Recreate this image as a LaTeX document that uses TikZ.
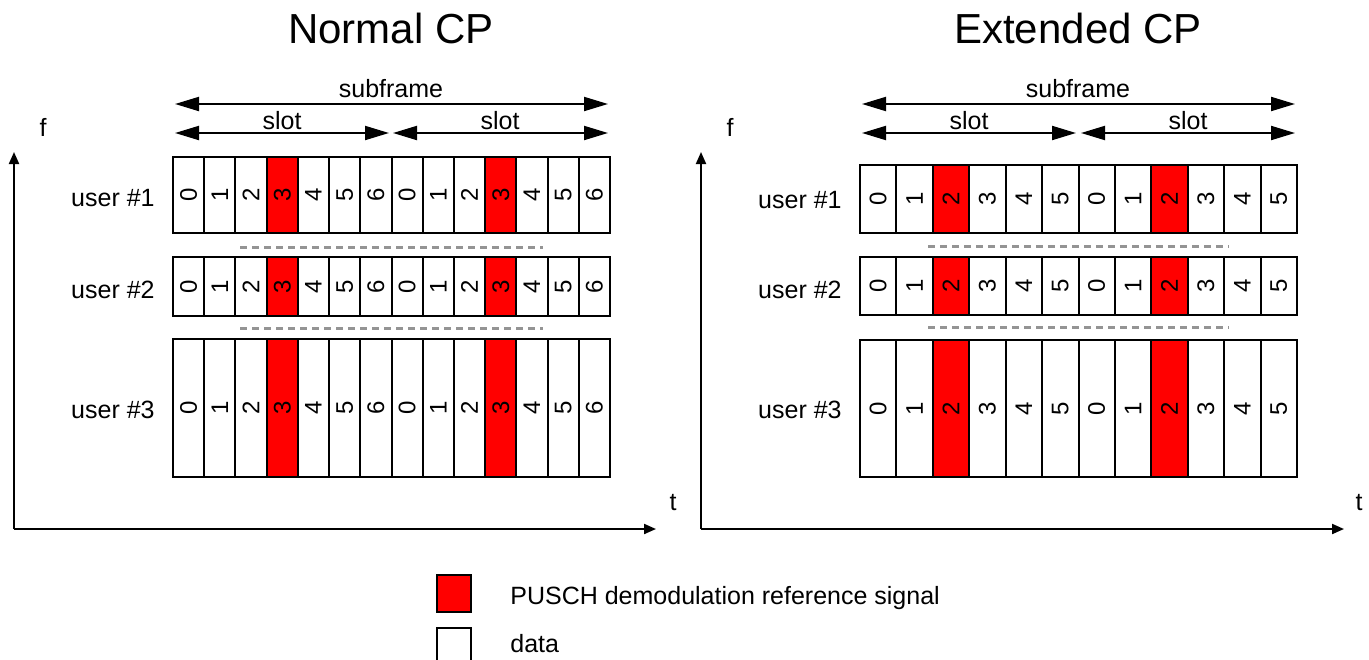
\documentclass[tikz,border=0pt]{standalone}
\usepackage{fontspec}
\setmainfont{Liberation Sans}
\usetikzlibrary{arrows.meta}
\begin{document}
\begin{tikzpicture}[x=0.5pt,y=-0.5pt,
  cell/.style={draw, line width=1pt, inner sep=0pt, font=\fontsize{12}{14}\selectfont},
  lbl/.style={inner sep=0pt, font=\fontsize{12.5}{15}\selectfont},
  ttl/.style={inner sep=0pt, font=\fontsize{21}{25}\selectfont, anchor=base},
  dim/.style={{Triangle[length=12pt,width=7pt]}-{Triangle[length=12pt,width=7pt]}, line width=1pt},
  axis/.style={-{Triangle[length=6pt,width=5pt]}, line width=1pt},
  sep/.style={draw=black!42, line width=1.5pt, dash pattern=on 3.5pt off 2.5pt},
  legbox/.style={draw, line width=1pt, inner sep=0pt, minimum width=17pt, minimum height=18.5pt}]
\useasboundingbox (0,0) rectangle (1369,659);

% ---------- titles ----------
\node[ttl] (tN) at (391,43) {Normal CP};
\node[ttl] (tE) at (1078,43) {Extended CP};

% ---------- left panel cells ----------
\foreach \r/\top/\bot in {1/157/233, 2/257/316, 3/339/477} {
  \foreach \i in {0,...,13} {
    \pgfmathsetmacro\cx{173+31.214*(\i+0.5)}
    \pgfmathtruncatemacro\d{mod(\i,7)}
    \pgfmathsetmacro\cy{(\top+\bot)/2}
    \pgfmathsetmacro\hh{(\bot-\top)*0.5}
    \ifnum\d=3 \def\fc{red}\else\def\fc{white}\fi
    \node[cell, fill=\fc, minimum width=15.607pt, minimum height=\hh pt] (N\r c\i) at (\cx,\cy) {\rotatebox{90}{\d}};
  }
}
% ---------- right panel cells ----------
\foreach \r/\top/\bot in {1/165/233, 2/257/315, 3/340/477} {
  \foreach \i in {0,...,11} {
    \pgfmathsetmacro\cx{860+36.417*(\i+0.5)}
    \pgfmathtruncatemacro\d{mod(\i,6)}
    \pgfmathsetmacro\cy{(\top+\bot)/2}
    \pgfmathsetmacro\hh{(\bot-\top)*0.5}
    \ifnum\d=2 \def\fc{red}\else\def\fc{white}\fi
    \node[cell, fill=\fc, minimum width=18.208pt, minimum height=\hh pt] (E\r c\i) at (\cx,\cy) {\rotatebox{90}{\d}};
  }
}

% ---------- user labels ----------
\node[lbl, anchor=east] (NU1) at (155,198) {user \#1};
\node[lbl, anchor=east] (NU2) at (155,290) {user \#2};
\node[lbl, anchor=east] (NU3) at (155,410) {user \#3};
\node[lbl, anchor=east] (EU1) at (842,200) {user \#1};
\node[lbl, anchor=east] (EU2) at (842,290) {user \#2};
\node[lbl, anchor=east] (EU3) at (842,410) {user \#3};

% ---------- separators ----------
\coordinate (NS1a) at (240,247); \coordinate (NS1b) at (543,247);
\coordinate (NS2a) at (240,328); \coordinate (NS2b) at (543,328);
\coordinate (ES1a) at (928,246); \coordinate (ES1b) at (1229,246);
\coordinate (ES2a) at (928,327); \coordinate (ES2b) at (1229,327);
\draw[sep] (NS1a) -- (NS1b);
\draw[sep] (NS2a) -- (NS2b);
\draw[sep] (ES1a) -- (ES1b);
\draw[sep] (ES2a) -- (ES2b);

% ---------- dimension arrows ----------
\coordinate (NFa) at (175,104); \coordinate (NFb) at (608,104);
\coordinate (NL1a) at (175,133); \coordinate (NL1b) at (389,133);
\coordinate (NL2a) at (393,133); \coordinate (NL2b) at (608,133);
\draw[dim] (NFa) -- (NFb);
\draw[dim] (NL1a) -- (NL1b);
\draw[dim] (NL2a) -- (NL2b);
\node[lbl] (NFt) at (391,89) {subframe};
\node[lbl] (NL1t) at (282,121) {slot};
\node[lbl] (NL2t) at (500,121) {slot};

\coordinate (EFa) at (862,104); \coordinate (EFb) at (1295,104);
\coordinate (EL1a) at (862,133); \coordinate (EL1b) at (1076,133);
\coordinate (EL2a) at (1081,133); \coordinate (EL2b) at (1295,133);
\draw[dim] (EFa) -- (EFb);
\draw[dim] (EL1a) -- (EL1b);
\draw[dim] (EL2a) -- (EL2b);
\node[lbl] (EFt) at (1078,89) {subframe};
\node[lbl] (EL1t) at (969,121) {slot};
\node[lbl] (EL2t) at (1188,121) {slot};

% ---------- axes ----------
\coordinate (NO) at (14,529); \coordinate (NFy) at (14,152); \coordinate (NTx) at (656,529);
\draw[axis] (NO) -- (NFy);
\draw[axis] (NO) -- (NTx);
\node[lbl] (Nf) at (43,127) {f};
\node[lbl] (Nt) at (673,503) {t};

\coordinate (EO) at (701,529); \coordinate (EFy) at (701,152); \coordinate (ETx) at (1344,529);
\draw[axis] (EO) -- (EFy);
\draw[axis] (EO) -- (ETx);
\node[lbl] (Ef) at (730,127) {f};
\node[lbl] (Et) at (1359,503) {t};

% ---------- legend ----------
\node[legbox, fill=red] (LR) at (454,593.5) {};
\node[legbox, fill=white] (LW) at (454,646.5) {};
\node[lbl, anchor=west] (LRt) at (510,598) {PUSCH demodulation reference signal};
\node[lbl, anchor=west] (LWt) at (510,644) {data};
\end{tikzpicture}
\end{document}
